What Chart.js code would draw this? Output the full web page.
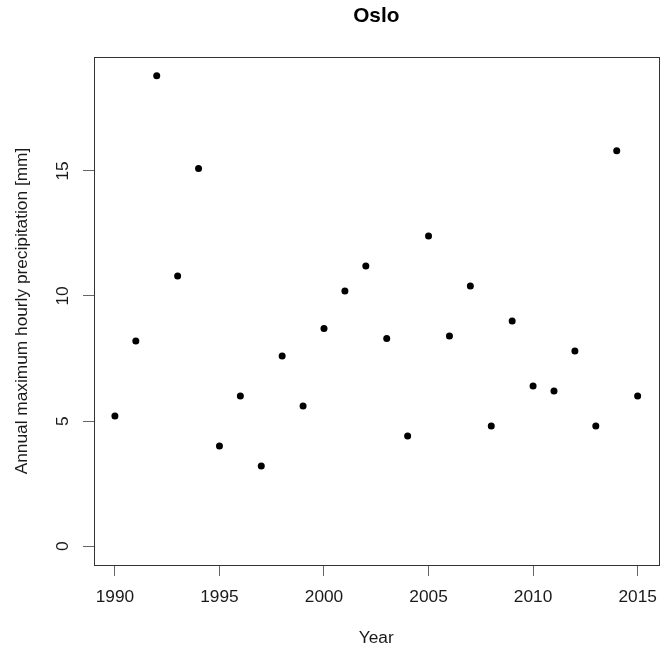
<!DOCTYPE html>
<html>
<head>
<meta charset="utf-8">
<script src="https://cdn.jsdelivr.net/npm/chart.js@4"></script>
<style>
  html, body { margin: 0; padding: 0; background: #fff; }
  #wrap { width: 668px; height: 650px; }
</style>
</head>
<body>
<div id="wrap"><canvas id="c" width="668" height="650"></canvas></div>
<script>
// data
const years = [1990, 1991, 1992, 1993, 1994, 1995, 1996, 1997, 1998, 1999,
               2000, 2001, 2002, 2003, 2004, 2005, 2006, 2007, 2008, 2009,
               2010, 2011, 2012, 2013, 2014, 2015];
const maxPrecip = [5.2, 8.2, 18.8, 10.8, 15.1, 4.0, 6.0, 3.2, 7.6, 5.6,
                   8.7, 10.2, 11.2, 8.3, 4.4, 12.4, 8.4, 10.4, 4.8, 9.0,
                   6.4, 6.2, 7.8, 4.8, 15.8, 6.0];
const xTicks = [1990, 1995, 2000, 2005, 2010, 2015];
const yTicks = [0, 5, 10, 15];

const title = 'Oslo';
const xTitle = 'Year';
const yTitle = 'Annual maximum hourly precipitation [mm]';

const FONT = '"Liberation Sans", Arial, sans-serif';
const FS = 17.3;
const TXT = '#1a1a1a';

// R style frame, titles and rotated y labels
const rFrame = {
    id: 'rFrame',
    afterDraw(chart) {
        const ctx = chart.ctx;
        const a = chart.chartArea;
        const ys = chart.scales.y;
        ctx.save();
        ctx.strokeStyle = '#333';
        ctx.lineWidth = 1;
        ctx.strokeRect(Math.round(a.left) + 0.5, Math.round(a.top) + 0.5,
            Math.round(a.right - a.left), Math.round(a.bottom - a.top));

        const cx = (a.left + a.right) / 2;
        ctx.fillStyle = '#000';
        ctx.textAlign = 'center';
        ctx.textBaseline = 'middle';
        ctx.font = 'bold 20.8px ' + FONT;
        ctx.fillText(title, cx, 16);

        ctx.fillStyle = TXT;
        ctx.font = FS + 'px ' + FONT;
        ctx.fillText(xTitle, cx, 638);

        ctx.save();
        ctx.translate(22, (a.top + a.bottom) / 2);
        ctx.rotate(-Math.PI / 2);
        ctx.fillText(yTitle, 0, 0);
        ctx.restore();

        ys.ticks.forEach(t => {
            ctx.save();
            ctx.translate(63, ys.getPixelForValue(t.value));
            ctx.rotate(-Math.PI / 2);
            ctx.fillText(String(t.value), 0, 0);
            ctx.restore();
        });
        ctx.restore();
    }
};

new Chart(document.getElementById('c'), {
    type: 'scatter',
    data: {
        datasets: [{
            data: years.map((y, i) => ({ x: y, y: maxPrecip[i] })),
            backgroundColor: '#000',
            borderColor: '#000',
            pointRadius: 3.5,
            pointBorderWidth: 0
        }]
    },
    options: {
        responsive: false,
        animation: false,
        devicePixelRatio: 1,
        layout: { padding: { top: 57, right: 3, left: 0, bottom: 0 } },
        plugins: { legend: { display: false }, tooltip: { enabled: false } },
        scales: {
            x: {
                type: 'linear',
                min: 1989,
                max: 2016,
                afterBuildTicks: s => { s.ticks = xTicks.map(v => ({ value: v })); },
                afterFit: s => { s.height = 85; },
                border: { display: false },
                grid: { drawOnChartArea: false, drawTicks: true, tickLength: 11, color: '#666' },
                ticks: {
                    color: TXT,
                    font: { family: FONT, size: FS },
                    padding: 11,
                    maxRotation: 0,
                    callback: v => String(v)
                }
            },
            y: {
                type: 'linear',
                min: -0.752,
                max: 19.552,
                afterBuildTicks: s => { s.ticks = yTicks.map(v => ({ value: v })); },
                afterFit: s => { s.width = 94; },
                border: { display: false },
                grid: { drawOnChartArea: false, drawTicks: true, tickLength: 11, color: '#666' },
                ticks: { display: false }
            }
        }
    },
    plugins: [rFrame]
});
</script>
</body>
</html>
